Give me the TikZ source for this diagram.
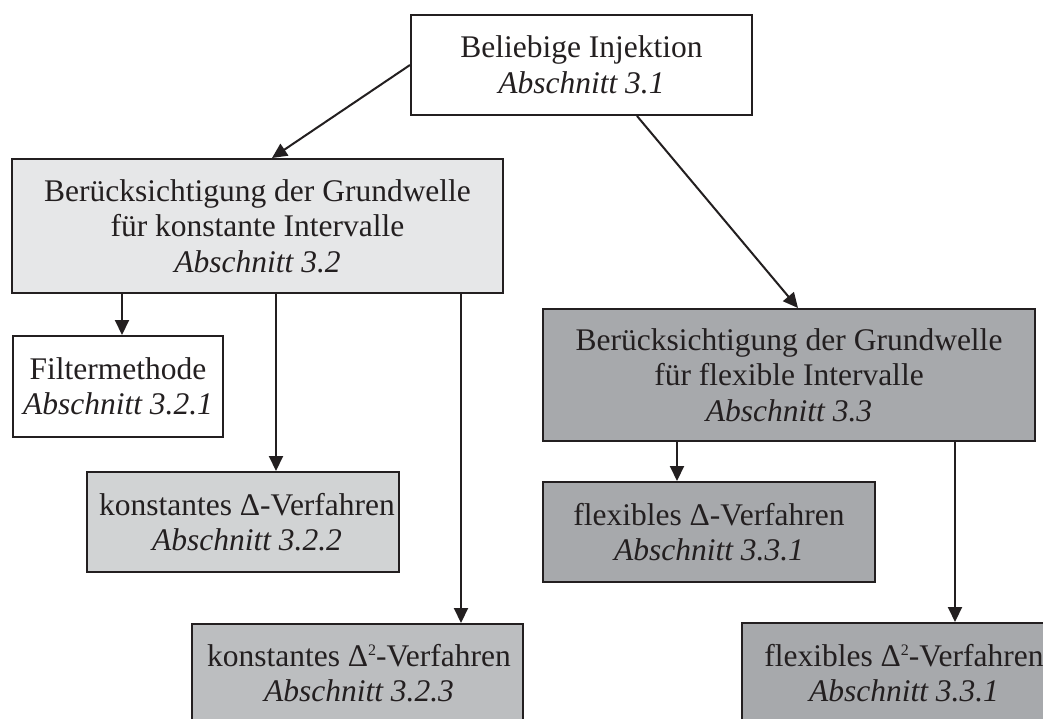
\documentclass[tikz,border=0pt]{standalone}
\usepackage{fontspec}
\setmainfont{Liberation Serif}
\usetikzlibrary{arrows.meta,calc}
\definecolor{bordc}{HTML}{231F20}
\definecolor{gA}{HTML}{E6E7E8}
\definecolor{gB}{HTML}{D1D3D4}
\definecolor{gC}{HTML}{BCBEC0}
\definecolor{gD}{HTML}{A7A9AC}
\newcommand{\sqsup}{\raisebox{11pt}{\fontsize{16}{16}\selectfont 2}}
\tikzset{
  box/.style={draw=bordc, line width=2pt, rectangle, inner sep=0pt, align=center,
    font=\fontsize{31.5}{35.5}\selectfont, text=bordc},
  txt/.style={inner sep=0pt, align=center, font=\fontsize{31.5}{35.5}\selectfont, text=bordc},
  arr/.style={draw=bordc, line width=2pt, -{Triangle[length=15pt,width=14pt]}}
}
\begin{document}
\begin{tikzpicture}[x=1pt,y=-1pt]
\clip (0,0) rectangle (1043,718);
\fill[white] (0,0) rectangle (1043,718);
% boxes
\node[box, fill=white, minimum width=341, minimum height=100] (b1) at (581.5,65)
  {Beliebige Injektion\\\textit{Abschnitt 3.1}};
\node[box, fill=gA, minimum width=491, minimum height=134] (b2) at (257.5,226)
  {Berücksichtigung der Grundwelle\\für konstante Intervalle\\\textit{Abschnitt 3.2}};
\node[box, fill=white, minimum width=210, minimum height=101] (b3) at (118,386.5)
  {Filtermethode\\\textit{Abschnitt 3.2.1}};
\node[box, fill=gB, minimum width=312, minimum height=100] (b4) at (243,522) {};
\node[txt] (t4) at (247,522) {konstantes Δ-Verfahren\\\textit{Abschnitt 3.2.2}};
\node[box, fill=gC, minimum width=331, minimum height=160, anchor=north] (b5) at (357.5,623) {};
\node[txt] (t5) at (359,673) {konstantes Δ\sqsup-Verfahren\\\textit{Abschnitt 3.2.3}};
\node[box, fill=gD, minimum width=492, minimum height=132] (b6) at (789,375)
  {Berücksichtigung der Grundwelle\\für flexible Intervalle\\\textit{Abschnitt 3.3}};
\node[box, fill=gD, minimum width=332, minimum height=100] (b7) at (709,532)
  {flexibles Δ-Verfahren\\\textit{Abschnitt 3.3.1}};
\node[box, fill=gD, minimum width=322, minimum height=160, anchor=north] (b8) at (903,622) {};
\node[txt] (t8) at (904,673) {flexibles Δ\sqsup-Verfahren\\\textit{Abschnitt 3.3.1}};
% connectors
\draw[arr] (b1.west) -- ($(b2.north west)+(261,0)$);
\draw[arr] ($(b1.south west)+(227,0)$) -- ($(b6.north west)+(256,0)$);
\draw[arr] ($(b2.south west)+(111,0)$) coordinate (s3) -- (s3 |- b3.north);
\draw[arr] ($(b2.south west)+(265,0)$) coordinate (s4) -- (s4 |- b4.north);
\draw[arr] ($(b2.south west)+(450,0)$) coordinate (s5) -- (s5 |- b5.north);
\draw[arr] ($(b6.south west)+(135,0)$) coordinate (s7) -- (s7 |- b7.north);
\draw[arr] ($(b6.south west)+(413,0)$) coordinate (s8) -- (s8 |- b8.north);
\end{tikzpicture}
\end{document}
